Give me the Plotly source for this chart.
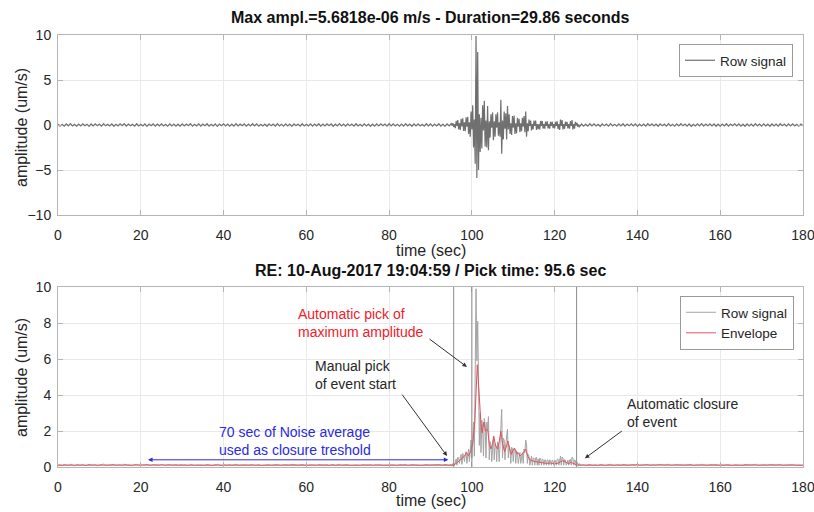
import numpy as np
import plotly.graph_objects as go

# ---------------- data ----------------
# raw signal samples, um/s
noise_pre = [  # t = 0 .. 94.5 s, every 0.5 s
    .10,-.12,.08,-.14,.12,-.09,.15,-.11,.07,-.13,.11,-.10,.14,-.08,.09,-.15,.12,-.10,.13,-.07,
    .10,-.12,.16,-.09,.08,-.11,.13,-.14,.09,-.10,.12,-.08,.15,-.12,.10,-.09,.07,-.13,.14,-.10,
    .09,-.11,.12,-.15,.10,-.08,.13,-.12,.11,-.09,.14,-.10,.08,-.13,.12,-.11,.10,-.14,.09,-.12,
    .13,-.10,.11,-.08,.15,-.12,.09,-.11,.12,-.13,.10,-.09,.14,-.12,.08,-.10,.13,-.15,.11,-.09,
    .12,-.11,.10,-.14,.09,-.12,.16,-.10,.11,-.08,.13,-.12,.10,-.11,.14,-.09,.12,-.13,.08,-.10,
    .11,-.14,.13,-.09,.10,-.12,.15,-.11,.09,-.13,.12,-.10,.11,-.15,.13,-.08,.10,-.12,.14,-.11,
    .09,-.10,.12,-.13,.11,-.09,.14,-.12,.10,-.11,.13,-.08,.12,-.14,.09,-.11,.15,-.10,.11,-.12,
    .13,-.09,.10,-.12,.14,-.11,.08,-.13,.12,-.10,.11,-.14,.09,-.12,.13,-.10,.12,-.09,.10,-.13,
    .14,-.11,.12,-.10,.09,-.13,.11,-.12,.15,-.09,.10,-.14,.12,-.11,.13,-.10,.09,-.12,.14,-.11,
    .12,-.13,.10,-.11,.14,-.12,.11,-.15,.13,-.10,
]
event = [  # t = 95.0 .. 126.0 s, every 0.2 s
    .15,-.05,.2,-.22,.08,
    -.35,.45,-.1,.55,-.5,
    .2,-.55,.7,-.15,.75,
    -.65,.3,-.7,.85,-.2,
    .9,-1.0,.3,-1.3,1.5,
    -.5,2.2,-2.5,.6,-4.3,
    9.9,-5.9,8.1,-5.0,1.2,
    -3.0,.8,-2.6,2.2,-.6,
    2.7,-2.4,.5,-2.5,2.1,
    -2.8,.4,-1.4,1.2,-.3,
    1.4,-1.7,.4,-1.3,1.2,
    -.3,1.4,-1.2,.3,-1.3,
    2.8,-3.2,.5,-1.6,1.5,
    -.4,1.3,-1.6,2.1,-.5,
    1.2,-1.0,.2,-1.1,1.0,
    -.3,1.05,-1.0,.2,-.9,
    .8,-.2,.7,-.8,.2,
    -.7,.8,-.2,1.0,-.8,
    1.5,-1.3,.2,-.7,.6,
    -.1,.5,-.6,.1,-.5,
    .5,-.1,.5,-.55,.1,
    -.45,.1,-.5,.45,-.1,
    .45,-.4,.1,-.4,.38,
    -.1,.4,-.38,.1,-.4,
    .35,-.1,.38,-.35,.1,
    -.38,.35,-.1,.42,-.45,
    .1,-.55,.6,-.1,.55,
    -.5,.1,-.42,.38,-.1,
    .35,-.38,.1,-.4,.42,
    -.1,.55,-.5,.1,-.4,
    .35,-.05,.25,-.22,.05,
    -.18,
]
noise_post = [  # t = 126.5 .. 180 s, every 0.5 s
    .11,-.13,.09,-.12,.14,-.10,.12,-.11,.08,-.14,.13,-.09,.10,-.12,.15,-.11,.09,-.13,.12,-.10,
    .14,-.12,.10,-.09,.13,-.11,.12,-.15,.09,-.10,.11,-.13,.14,-.08,.12,-.11,.10,-.14,.13,-.09,
    .11,-.12,.15,-.10,.09,-.13,.12,-.11,.14,-.09,.10,-.12,.13,-.14,.08,-.11,.12,-.10,.15,-.12,
    .10,-.09,.13,-.11,.12,-.14,.09,-.12,.11,-.10,.14,-.13,.10,-.08,.12,-.11,.13,-.12,.09,-.14,
    .12,-.10,.11,-.13,.15,-.09,.10,-.12,.13,-.11,.09,-.14,.12,-.10,.11,-.12,.14,-.09,.10,-.13,
    .12,-.11,.13,-.10,.09,-.12,.11,-.10,
]
t_pre = np.arange(len(noise_pre)) * 0.5
t_evt = 95.0 + np.arange(len(event)) * 0.2
t_post = 126.5 + np.arange(len(noise_post)) * 0.5

# envelope (um/s)
env_t = [0, 5, 10, 15, 20, 25, 30, 35, 40, 45, 50, 55, 60, 65, 70, 75, 80, 85, 90, 95,
         95.5, 96.5, 97.5, 98.2, 98.7, 99.2, 99.7, 100.2, 100.7, 101.0, 101.3, 101.6, 101.9,
         102.2, 102.5, 102.9, 103.3, 103.8, 104.2, 104.6, 105.0, 105.3, 105.7, 106.2, 106.6,
         107.0, 107.4, 107.9, 108.3, 108.7, 109.1, 109.5, 109.9, 110.3, 110.8, 111.2, 111.6,
         112.0, 112.5, 113.0, 113.5, 114.0, 114.6, 115.2, 116, 117, 118, 119, 120, 121, 121.8,
         122.5, 123.2, 124, 124.7, 125.3, 126, 130, 135, 140, 145, 150, 155, 160, 165, 170,
         175, 180]
env_v = [0.10, 0.11, 0.10, 0.12, 0.10, 0.11, 0.10, 0.10, 0.12, 0.11, 0.10, 0.11, 0.12, 0.10,
         0.11, 0.10, 0.12, 0.10, 0.11, 0.10,
         0.10, 0.25, 0.45, 0.6, 0.8, 0.6, 0.9, 1.3, 2.5, 4.2, 5.68, 4.6, 3.1,
         2.4, 1.9, 2.5, 2.0, 2.1, 1.3, 1.0, 1.3, 1.7, 1.2, 1.0, 1.4,
         2.0, 1.3, 0.85, 1.1, 1.45, 1.0, 0.7, 0.9, 1.05, 0.75, 0.8, 0.6,
         0.7, 0.8, 1.0, 0.6, 0.4, 0.35, 0.3, 0.28, 0.22, 0.2, 0.22, 0.18, 0.22, 0.35,
         0.3, 0.2, 0.25, 0.18, 0.12, 0.10, 0.09, 0.10, 0.11, 0.10, 0.09, 0.11, 0.10, 0.10, 0.11,
         0.10, 0.10]

pick_time = 95.6
closure_time = 125.3
max_pick_line = 100.0

top_title = "Max ampl.=5.6818e-06 m/s - Duration=29.86 seconds"
bottom_title = "RE: 10-Aug-2017 19:04:59 / Pick time: 95.6 sec"

# ---------------- figure ----------------
t_all = np.concatenate([t_pre, t_evt, t_post])
sig = np.array(noise_pre + event + noise_post)

FONT = "Liberation Sans, Arial, Helvetica, sans-serif"
TXT = "#262626"

fig = go.Figure()
fig.add_trace(go.Scatter(x=t_all, y=sig, mode="lines", name="Row signal",
                         line=dict(color="#707070", width=1.2), xaxis="x", yaxis="y",
                         legend="legend"))
fig.add_trace(go.Scatter(x=t_all, y=np.abs(sig), mode="lines", name="Row signal",
                         line=dict(color="#a4a4a4", width=1), xaxis="x2", yaxis="y2",
                         legend="legend2"))
fig.add_trace(go.Scatter(x=env_t, y=env_v, mode="lines", name="Envelope",
                         line=dict(color="#e2535c", width=1), xaxis="x2", yaxis="y2",
                         legend="legend2"))

H = 512 - 35 - 45  # plot height in px
def py(p):  # pixel y -> paper y
    return (467 - p) / H
def px(p):
    return (p - 58) / 745

axis_common = dict(showline=True, linecolor="#b5b5b5", linewidth=1, mirror="ticks",
                   ticks="inside", ticklen=5, tickcolor="#b5b5b5", automargin=False,
                   showgrid=True, gridcolor="#e9e9e9", gridwidth=1, zeroline=False,
                   tickfont=dict(family=FONT, size=14, color=TXT))

fig.update_layout(
    width=814, height=512, margin=dict(l=58, r=11, t=35, b=45, autoexpand=False),
    paper_bgcolor="white", plot_bgcolor="white",
    font=dict(family=FONT, size=14, color=TXT),
    xaxis=dict(domain=[0, 1], anchor="y", range=[0, 180], dtick=20, ticklabelstandoff=7,
               ticklabeloverflow="allow", **axis_common),
    yaxis=dict(domain=[1 - 180 / H, 1], anchor="x", range=[-10, 10], dtick=5,
               ticklabelstandoff=3, **axis_common),
    xaxis2=dict(domain=[0, 1], anchor="y2", range=[0, 180], dtick=20, ticklabelstandoff=7,
                ticklabeloverflow="allow", **axis_common),
    yaxis2=dict(domain=[0, 180 / H], anchor="x2", range=[0, 10], dtick=2,
                ticklabelstandoff=3, **axis_common),
    legend=dict(x=px(793), xanchor="right", y=py(44), yanchor="top",
                bgcolor="white", bordercolor="#9a9a9a", borderwidth=1,
                font=dict(family=FONT, size=13.5, color=TXT), tracegroupgap=0),
    legend2=dict(x=px(794), xanchor="right", y=py(296), yanchor="top",
                 bgcolor="white", bordercolor="#9a9a9a", borderwidth=1,
                 font=dict(family=FONT, size=13.5, color=TXT), tracegroupgap=0),
    showlegend=True,
)

for xv in [pick_time, max_pick_line, closure_time]:
    fig.add_shape(type="line", xref="x2", yref="y2 domain", x0=xv, x1=xv, y0=0, y1=1,
                  line=dict(color="#8a8a8a", width=1))

ann = []
# titles
ann.append(dict(text="<b>" + top_title + "</b>", xref="paper", yref="paper", x=0.5, y=py(18),
                xanchor="center", yanchor="middle", showarrow=False,
                font=dict(family=FONT, size=16, color="#111")))
ann.append(dict(text="<b>" + bottom_title + "</b>", xref="paper", yref="paper", x=0.5, y=py(270),
                xanchor="center", yanchor="middle", showarrow=False,
                font=dict(family=FONT, size=16, color="#111")))
# axis titles
for yy in [250, 500]:
    ann.append(dict(text="time (sec)", xref="paper", yref="paper", x=0.5, y=py(yy),
                    xanchor="center", yanchor="middle", showarrow=False,
                    font=dict(family=FONT, size=16, color=TXT)))
for yy in [128, 378]:
    ann.append(dict(text="amplitude (um/s)", xref="paper", yref="paper", x=px(21), y=py(yy),
                    xanchor="center", yanchor="middle", showarrow=False, textangle=-90,
                    font=dict(family=FONT, size=16, color=TXT)))
# text blocks in bottom panel
def tb(txt, x, y, color):
    return dict(text=txt, xref="x2", yref="y2", x=x, y=y, xanchor="left", yanchor="middle",
                align="left", showarrow=False, font=dict(family=FONT, size=14, color=color))
ann.append(tb("Automatic pick of<br>maximum amplitude", 57.5, 8.0, "#f0202a"))
ann.append(tb("Manual pick<br>of event start", 61.6, 5.1, "#262626"))
ann.append(tb("70 sec of Noise average<br>used as closure treshold", 38.3, 1.45, "#2a2ae0"))
ann.append(tb("Automatic closure<br>of event", 137.0, 3.0, "#262626"))
# arrows
def arr(x, y, ax, ay, color, side="end"):
    return dict(text="", xref="x2", yref="y2", x=x, y=y, ax=ax, ay=ay, axref="x2", ayref="y2",
                showarrow=True, arrowhead=2, arrowsize=0.9, arrowwidth=1, arrowcolor=color,
                arrowside=side)
ann.append(arr(98.8, 5.56, 89.4, 7.17, "#333333"))
ann.append(arr(94.0, 0.61, 82.9, 4.1, "#333333"))
ann.append(arr(127.3, 0.48, 136.6, 2.06, "#333333"))
ann.append(arr(94.3, 0.4, 21.4, 0.4, "#2a2ae0", side="end+start"))
fig.update_layout(annotations=ann)

fig.write_html("out.html")
